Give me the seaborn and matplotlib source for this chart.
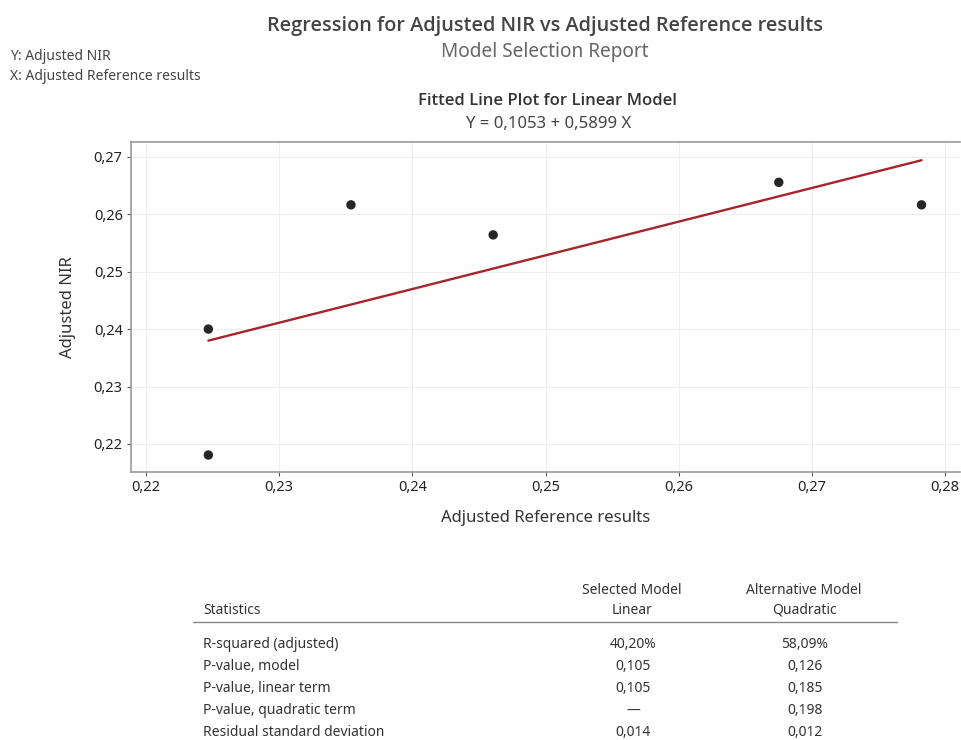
import matplotlib
matplotlib.use("Agg")
import matplotlib.pyplot as plt
from matplotlib import font_manager
import seaborn as sns
import pandas as pd

# data
ref_x = [0.22468, 0.22468, 0.23539, 0.24607, 0.26752, 0.27824]
nir_y = [0.24000, 0.21808, 0.26162, 0.25639, 0.26554, 0.26162]
x_ticks = [0.22, 0.23, 0.24, 0.25, 0.26, 0.27, 0.28]
y_ticks = [0.22, 0.23, 0.24, 0.25, 0.26, 0.27]
stat_names = ["R-squared (adjusted)", "P-value, model", "P-value, linear term",
              "P-value, quadratic term", "Residual standard deviation"]
linear_vals = ["40,20%", "0,105", "0,105", "\u2014", "0,014"]
quad_vals = ["58,09%", "0,126", "0,185", "0,198", "0,012"]

sns.set_theme(style="white")
plt.rcParams['font.family'] = ['Noto Sans', 'DejaVu Sans']


def _w(v):
    if isinstance(v, (int, float)):
        return int(v)
    return {"semibold": 600, "demibold": 600, "demi": 600, "bold": 700,
            "medium": 500, "normal": 400, "regular": 400}.get(str(v).lower(), 400)


def pick_bold():
    for fam in ["Noto Sans", "Open Sans", "Lato", "Roboto", "Inter", "Liberation Sans", "DejaVu Sans"]:
        ws = [_w(f.weight) for f in font_manager.fontManager.ttflist
              if f.name == fam and f.style == "normal"]
        for target in (600, 700):
            if target in ws:
                return fam, target
    return "DejaVu Sans", 700


bold_fam, bold_w = pick_bold()

df = pd.DataFrame({"x": ref_x, "y": nir_y})

fig = plt.figure(figsize=(9.61, 7.40), dpi=100)
ax = fig.add_axes([131/961, 1-472/740, 829/961, 330/740])

sns.regplot(data=df, x="x", y="y", ax=ax, ci=None, truncate=True,
            scatter_kws=dict(s=46, color="#262626", edgecolor="none", alpha=1, zorder=3),
            line_kws=dict(color="#A8242B", lw=1.7, zorder=2))

ax.set_xlim(0.21887, 0.28113)
ax.set_ylim(0.21512, 0.27256)
ax.set_xticks(x_ticks)
ax.set_yticks(y_ticks)
fmt = lambda v: f"{v:.2f}".replace(".", ",")
ax.set_xticklabels([fmt(v) for v in x_ticks])
ax.set_yticklabels([fmt(v) for v in y_ticks])
ax.tick_params(axis="both", labelsize=10.5, colors="#555555", length=3, width=0.8,
               direction="out", bottom=True, left=True, pad=3)
for lab in ax.get_xticklabels() + ax.get_yticklabels():
    lab.set_color("#222222")
ax.grid(True, color="#EFEFEF", lw=0.8)
ax.set_axisbelow(True)
for sp in ax.spines.values():
    sp.set_color("#9A9A9A")
    sp.set_linewidth(1.2)
ax.spines["right"].set_visible(False)

ax.set_xlabel("Adjusted Reference results", fontsize=12, color="#333333")
ax.set_ylabel("Adjusted NIR", fontsize=12, color="#333333")
ax.xaxis.set_label_coords((546-131)/829, (472-518)/330)
ax.yaxis.set_label_coords((68-131)/829, 0.5)
ax.xaxis.label.set_va("center")
ax.yaxis.label.set_va("center")

# Header texts
fig.text(545/961, 1-26/740, "Regression for Adjusted NIR vs Adjusted Reference results",
         ha="center", va="center", fontsize=14.3, color="#444444",
         family=[bold_fam, "DejaVu Sans"], fontweight=bold_w)
fig.text(545/961, 1-52/740, "Model Selection Report", ha="center", va="center",
         fontsize=13.7, color="#666666")
fig.text(10/961, 1-57/740, "Y: Adjusted NIR", ha="left", va="center", fontsize=10, color="#444444")
fig.text(10/961, 1-77/740, "X: Adjusted Reference results", ha="left", va="center",
         fontsize=10, color="#444444")
fig.text(548/961, 1-101/740, "Fitted Line Plot for Linear Model", ha="center", va="center",
         fontsize=12, color="#333333", family=[bold_fam, "DejaVu Sans"], fontweight=bold_w)
fig.text(549/961, 1-124/740, "Y = 0,1053 + 0,5899 X", ha="center", va="center",
         fontsize=12, color="#444444")

# Table
tc = "#333333"
fs = 10
fig.text(203/961, 1-610/740, "Statistics", ha="left", va="center", fontsize=fs, color=tc)
fig.text(632/961, 1-590/740, "Selected Model", ha="center", va="center", fontsize=fs, color=tc)
fig.text(632/961, 1-610/740, "Linear", ha="center", va="center", fontsize=fs, color=tc)
fig.text(804/961, 1-590/740, "Alternative Model", ha="center", va="center", fontsize=fs, color=tc)
fig.text(804/961, 1-610/740, "Quadratic", ha="center", va="center", fontsize=fs, color=tc)
fig.add_artist(plt.Line2D([193/961, 897/961], [1-622/740, 1-622/740], color="#888888", lw=1.0))
row_y = [644, 666, 689, 711, 733]
for name, lv, qv, yy in zip(stat_names, linear_vals, quad_vals, row_y):
    fig.text(203/961, 1-yy/740, name, ha="left", va="center", fontsize=fs, color=tc)
    fig.text(633/961, 1-yy/740, lv, ha="center", va="center", fontsize=fs, color=tc)
    fig.text(805/961, 1-yy/740, qv, ha="center", va="center", fontsize=fs, color=tc)

fig.savefig("out.png", dpi=100, facecolor="white")
